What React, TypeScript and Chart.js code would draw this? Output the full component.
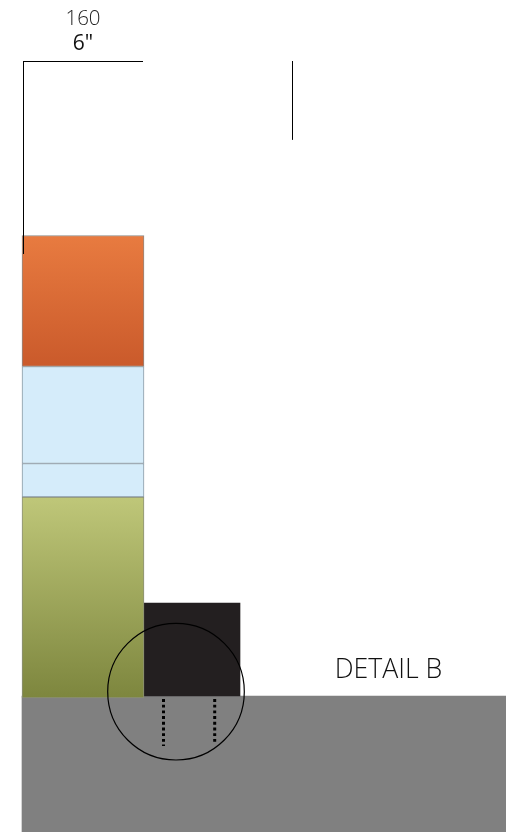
import React, { useEffect, useRef } from "react";
import { Chart, registerables } from "chart.js";

Chart.register(...registerables);

const WIDTH = 506;
const HEIGHT = 832;

// Stacked layers, column 1: [top, bottom] measured downward from the page top
const columnCentre = 83;
const orangeLayer: [number, number] = [235.5, 366.5];
const blueUpperLayer: [number, number] = [366.5, 463.5];
const blueLowerLayer: [number, number] = [463.5, 497];
const greenLayer: [number, number] = [497, 698];
// Dark block, column 2
const blockCentre = 192;
const blockLayer: [number, number] = [603, 696];
// Ground
const groundCentre = 264;
const groundLayer: [number, number] = [696, 832];

// Dimension and detail lines
const dimensionTop = [{ x: 23.5, y: 61.5 }, { x: 143, y: 61.5 }];
const dimensionLeft = [{ x: 23.5, y: 61 }, { x: 23.5, y: 254 }];
const dimensionRight = [{ x: 292.5, y: 61 }, { x: 292.5, y: 139.5 }];
const dottedLeft = [{ x: 163.5, y: 699 }, { x: 163.5, y: 746 }];
const dottedRight = [{ x: 214.7, y: 699 }, { x: 214.7, y: 742 }];
const detailCircle = [{ x: 176, y: 691.7 }];

const labels = [
  { text: "160", x: 83, y: 19, color: "#222222", font: "300 20.5px 'Open Sans'" },
  { text: '6"', x: 83, y: 44.5, color: "#111111", font: "400 21px 'Open Sans'" },
  { text: "DETAIL B", x: 388.5, y: 670, color: "#111111", font: "300 26.7px 'Open Sans'" },
];

const gradient = (stops: [string, string], layer: [number, number]) => (ctx: any) => {
  const { chart } = ctx;
  const y = chart.scales.y;
  const top = y ? y.getPixelForValue(layer[0]) : NaN;
  const bottom = y ? y.getPixelForValue(layer[1]) : NaN;
  if (!chart.chartArea || !Number.isFinite(top) || !Number.isFinite(bottom)) return stops[0];
  const g = chart.ctx.createLinearGradient(0, top, 0, bottom);
  g.addColorStop(0, stops[0]);
  g.addColorStop(1, stops[1]);
  return g;
};

const textPlugin = {
  id: "drawingText",
  afterDraw(chart: any) {
    const { ctx, scales } = chart;
    ctx.save();
    ctx.textAlign = "center";
    ctx.textBaseline = "middle";
    for (const l of labels) {
      ctx.font = l.font;
      ctx.fillStyle = l.color;
      ctx.fillText(l.text, scales.x.getPixelForValue(l.x), scales.y.getPixelForValue(l.y));
    }
    ctx.restore();
  },
};

const bar = (cx: number, layer: [number, number], thickness: number, bg: any, border: string, bw: number, order: number) => ({
  type: "bar" as const,
  data: [{ x: cx, y: layer }],
  barThickness: thickness,
  backgroundColor: bg,
  borderColor: border,
  borderWidth: bw,
  borderSkipped: false,
  order,
});

const line = (data: { x: number; y: number }[], width: number, order: number, dash: number[] = []) => ({
  type: "scatter" as const,
  data,
  showLine: true,
  borderColor: "#000000",
  backgroundColor: "#000000",
  borderWidth: width,
  borderDash: dash,
  pointRadius: 0,
  order,
});

export default function App() {
  const ref = useRef<HTMLCanvasElement>(null);
  useEffect(() => {
    const chart = new Chart(ref.current!, {
      type: "bar",
      data: {
        datasets: [
          bar(groundCentre, groundLayer, 484, "#808080", "#808080", 0, 20),
          bar(blockCentre, blockLayer, 96, "#231F20", "#231F20", 0, 19),
          bar(columnCentre, greenLayer, 122, gradient(["#BFC779", "#7D863E"], greenLayer), "#8b8f7a", 1, 18),
          bar(columnCentre, blueLowerLayer, 122, "#D5ECFA", "#8B99A3", 1, 17),
          bar(columnCentre, blueUpperLayer, 122, "#D5ECFA", "#8B99A3", 1, 16),
          bar(columnCentre, orangeLayer, 122, gradient(["#E87B40", "#CA5A2B"], orangeLayer), "#8f8a85", 1, 15),
          line(dimensionTop, 1, 5),
          line(dimensionLeft, 1, 4),
          line(dimensionRight, 1, 3),
          line(dottedLeft, 3, 2, [2.9, 2.8]),
          line(dottedRight, 3, 2, [2.9, 2.8]),
          {
            type: "scatter" as const,
            data: detailCircle,
            pointRadius: 68.3,
            pointHoverRadius: 68.3,
            pointBackgroundColor: "rgba(0,0,0,0)",
            pointBorderColor: "#000000",
            pointBorderWidth: 1.2,
            order: 1,
          },
        ] as any,
      },
      options: {
        responsive: false,
        animation: false,
        layout: { padding: 0, autoPadding: false },
        plugins: { legend: { display: false }, tooltip: { enabled: false } },
        datasets: { bar: { grouped: false } as any },
        scales: {
          x: { type: "linear", min: 0, max: WIDTH, display: false, offset: false },
          y: { type: "linear", min: 0, max: HEIGHT, reverse: true, display: false, offset: false },
        },
      },
      plugins: [textPlugin],
    });
    return () => chart.destroy();
  }, []);
  return (
    <canvas
      ref={ref}
      width={WIDTH}
      height={HEIGHT}
      style={{ position: "fixed", left: 0, top: 0, display: "block" }}
    />
  );
}
